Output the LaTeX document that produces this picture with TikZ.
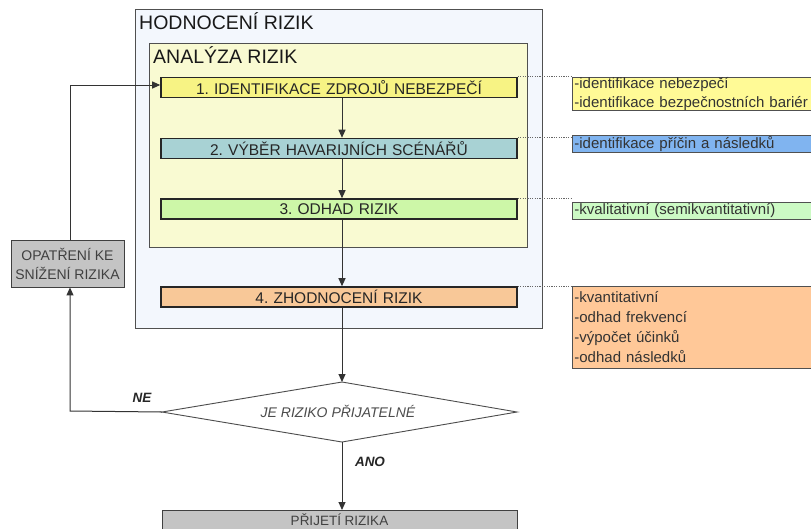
\documentclass[tikz,border=0pt]{standalone}
\usepackage{fontspec}
\setmainfont{Liberation Sans}
\usetikzlibrary{arrows.meta}
\definecolor{outerfill}{HTML}{F3F7FD}
\definecolor{innerfill}{HTML}{F9FAD2}
\definecolor{stepA}{HTML}{F7F384}
\definecolor{stepB}{HTML}{A8D2D4}
\definecolor{stepC}{HTML}{CDF7A8}
\definecolor{stepD}{HTML}{F8C898}
\definecolor{noteA}{HTML}{FFFA96}
\definecolor{noteB}{HTML}{80B4F0}
\definecolor{noteC}{HTML}{CCFAC4}
\definecolor{noteD}{HTML}{FFC898}
\definecolor{grayfill}{HTML}{C4C4C4}
\definecolor{linegray}{HTML}{505050}
\tikzset{
  x=1pt,y=-1pt,
  stepbox/.style={draw=black!85,line width=1.6pt,minimum height=20pt,text width=356pt,align=center,font=\fontsize{15.5}{17}\selectfont\frenchspacing,inner sep=0pt,text=black!85},
  notebox/.style={draw=linegray,line width=0.8pt,anchor=north west,align=left,inner xsep=2pt,inner ysep=0pt,font=\fontsize{15}{19}\selectfont\frenchspacing,text=black!80,minimum width=260pt,text width=256pt},
  flow/.style={draw=black!80,line width=1pt,-{Triangle[length=8pt,width=7pt]}},
  dots/.style={draw=black!60,line width=0.8pt,dash pattern=on 1.2pt off 1.2pt},
  lbl/.style={font=\fontsize{13.5}{15}\selectfont\bfseries\itshape,text=black!85}
}
\begin{document}
\begin{tikzpicture}
\useasboundingbox (0,0) rectangle (811,528);
\clip (0,0) rectangle (811,528);
% outer boxes
\draw[fill=outerfill,draw=linegray,line width=0.9pt] (135,9) rectangle (542,328);
\node[anchor=north west,font=\fontsize{19.5}{21}\selectfont,text=black!90,inner sep=0pt] (t1) at (139,12) {HODNOCENÍ RIZIK};
\draw[fill=innerfill,draw=linegray,line width=0.9pt] (149,43) rectangle (527,247);
\node[anchor=north west,font=\fontsize{19.5}{21}\selectfont,text=black!90,inner sep=0pt] (t2) at (153,46) {ANALÝZA RIZIK};
% steps
\node[stepbox,fill=stepA] (s1) at (339,87.5) {1. IDENTIFIKACE ZDROJŮ NEBEZPEČÍ};
\node[stepbox,fill=stepB] (s2) at (339,148.5) {2. VÝBĚR HAVARIJNÍCH SCÉNÁŘŮ};
\node[stepbox,fill=stepC] (s3) at (339,209) {3. ODHAD RIZIK};
\node[stepbox,fill=stepD] (s4) at (339,297) {4. ZHODNOCENÍ RIZIK};
% notes
\node[notebox,fill=noteA,minimum height=32pt,font=\fontsize{15}{19}\selectfont] (n1) at (572,77) {-identifikace nebezpečí\\-identifikace bezpečnostních bariér};
\node[notebox,fill=noteB,minimum height=17pt] (n2) at (572,135) {-identifikace příčin a následků};
\node[notebox,fill=noteC,minimum height=17pt] (n3) at (572,202) {-kvalitativní (semikvantitativní)};
\node[notebox,fill=noteD,minimum height=82pt,font=\fontsize{15}{20}\selectfont] (n4) at (572,286) {-kvantitativní\\-odhad frekvencí\\-výpočet účinků\\-odhad následků};
% dotted connectors
\draw[dots] (s1.north east) -- (s1.north east -| n1.west);
\draw[dots] (s2.north east) -- (s2.north east -| n2.west);
\draw[dots] (s3.north east) -- (s3.north east -| n3.west);
\draw[dots] (s4.north east) -- (s4.north east -| n4.west);
% diamond
\coordinate (dl) at (162,412);
\coordinate (dt) at (342,382);
\coordinate (dr) at (517,412);
\coordinate (db) at (342,442);
\draw[fill=white,draw=black!70,line width=0.9pt] (dl) -- (dt) -- (dr) -- (db) -- cycle;
\node[font=\fontsize{14}{16}\selectfont\itshape,text=black!70] (q) at (338,411) {JE RIZIKO PŘIJATELNÉ};
% side box
\node[draw=black!75,line width=0.9pt,fill=grayfill,minimum width=113pt,minimum height=47pt,align=center,font=\fontsize{14}{19}\selectfont,text=black!75] (op) at (67.5,263.5) {OPATŘENÍ KE\\SNÍŽENÍ RIZIKA};
% bottom box
\node[draw=black!75,line width=0.9pt,fill=grayfill,minimum width=355pt,minimum height=30pt,anchor=north,font=\fontsize{13.5}{15}\selectfont,text=black!75,text depth=12pt] (acc) at (339.5,510) {PŘIJETÍ RIZIKA};
% flow arrows
\draw[flow] (s1.south -| dt) -- (s2.north -| dt);
\draw[flow] (s2.south -| dt) -- (s3.north -| dt);
\draw[flow] (s3.south -| dt) -- (s4.north -| dt);
\draw[flow] (s4.south -| dt) -- (dt);
\draw[flow] (db) -- (acc.north -| db);
\coordinate (c1) at (70,411);
\draw[flow] (dl) -- (c1) -- (op.south -| c1);
\coordinate (c2) at (70,85);
\draw[flow] (op.north -| c2) -- (c2) -- (s1.west |- c2);
% labels
\node[lbl] (ne) at (142,398) {NE};
\node[lbl] (ano) at (370,462) {ANO};
\end{tikzpicture}
\end{document}
